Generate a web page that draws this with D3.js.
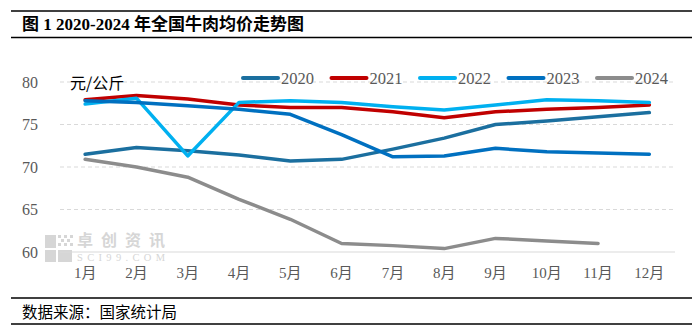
<!DOCTYPE html>
<html lang="zh">
<head>
<meta charset="UTF-8">
<title>2020-2024 年全国牛肉均价走势图</title>
<script src="https://cdnjs.cloudflare.com/ajax/libs/d3/7.8.5/d3.min.js"></script>
<style>
  body { margin: 0; background: #fff; }
  svg { display: block; }
</style>
</head>
<body>
<div id="chart"></div>
<script>
// 月份
const months = ['1月', '2月', '3月', '4月', '5月', '6月', '7月', '8月', '9月', '10月', '11月', '12月'];
// 各年份均价 (元/公斤)
const years = ['2020', '2021', '2022', '2023', '2024'];
const v2020 = [71.5, 72.3, 71.9, 71.4, 70.7, 70.9, 72.1, 73.4, 75.0, 75.4, 75.9, 76.4];
const v2021 = [77.9, 78.4, 78.0, 77.3, 77.0, 77.0, 76.5, 75.8, 76.5, 76.8, 77.0, 77.3];
const v2022 = [77.4, 78.1, 71.3, 77.6, 77.8, 77.6, 77.1, 76.7, 77.3, 77.9, 77.8, 77.6];
const v2023 = [77.8, 77.6, 77.2, 76.8, 76.2, 73.8, 71.2, 71.3, 72.2, 71.8, 71.65, 71.5];
const v2024 = [70.9, 70.0, 68.8, 66.2, 63.85, 61.0, 60.75, 60.4, 61.6, 61.3, 61.0];
const yTicks = [60, 65, 70, 75, 80];

const colors = ['#1b6f9f', '#c00000', '#00b0f0', '#0070c0', '#8c8c8c'];
const seriesValues = [v2020, v2021, v2022, v2023, v2024];

const W = 699, H = 336;
const svg = d3.select('#chart').append('svg').attr('width', W).attr('height', H);

// 标题与边框线
svg.append('line').attr('x1', 11).attr('x2', 692).attr('y1', 11).attr('y2', 11)
   .attr('stroke', '#000').attr('stroke-width', 1.5);
svg.append('line').attr('x1', 11).attr('x2', 692).attr('y1', 37.5).attr('y2', 37.5)
   .attr('stroke', '#000').attr('stroke-width', 1.5);
svg.append('text').attr('x', 22).attr('y', 30)
   .attr('font-family', '"Liberation Serif", "Noto Sans CJK SC", serif')
   .attr('font-weight', 'bold').attr('font-size', 17).attr('fill', '#000')
   .text('图 1 2020-2024 年全国牛肉均价走势图');

// 数据来源
svg.append('line').attr('x1', 11).attr('x2', 692).attr('y1', 298).attr('y2', 298)
   .attr('stroke', '#000').attr('stroke-width', 1.5);
svg.append('line').attr('x1', 11).attr('x2', 692).attr('y1', 324).attr('y2', 324)
   .attr('stroke', '#000').attr('stroke-width', 1.5);
svg.append('text').attr('x', 22).attr('y', 318)
   .attr('font-family', '"Noto Sans CJK SC", sans-serif')
   .attr('font-size', 15.5).attr('fill', '#000')
   .text('数据来源：国家统计局');

// 比例尺
const x = d3.scaleBand().domain(months).range([59.5, 675]);
const y = d3.scaleLinear().domain([60, 80]).range([252, 82]);

// 水印
const wm = svg.append('g').attr('fill', '#d6d6d6');
wm.append('rect').attr('x', 45).attr('y', 235).attr('width', 11).attr('height', 13);
wm.append('rect').attr('x', 45).attr('y', 250).attr('width', 11).attr('height', 12);
wm.append('rect').attr('x', 58).attr('y', 250).attr('width', 14).attr('height', 12);
[[58, 235], [64, 235], [70, 235], [61, 239], [67, 239], [58, 243], [64, 243], [70, 243]].forEach(p => {
  wm.append('rect').attr('x', p[0]).attr('y', p[1]).attr('width', 3).attr('height', 3);
});
wm.append('text').attr('x', 77).attr('y', 246)
  .attr('font-family', '"Noto Sans CJK SC", sans-serif').attr('font-weight', 'bold')
  .attr('font-size', 16).attr('textLength', 88).text('卓创资讯');
wm.append('text').attr('x', 77).attr('y', 261)
  .attr('font-family', '"Liberation Serif", serif')
  .attr('font-size', 10.5).attr('textLength', 88).text('SCI99.COM');

// 网格线
svg.append('g').selectAll('line')
   .data(yTicks)
   .join('line')
   .attr('x1', 60).attr('x2', 675)
   .attr('y1', d => y(d)).attr('y2', d => y(d))
   .attr('stroke', '#d9d9d9').attr('stroke-width', 1)
   .attr('stroke-dasharray', d => d === 60 ? null : '4,3');

// y 轴
const yAxis = svg.append('g').attr('transform', 'translate(40,0)')
   .call(d3.axisLeft(y).tickValues(yTicks).tickSize(0).tickPadding(2));
yAxis.select('.domain').remove();
yAxis.selectAll('text').attr('font-family', '"Liberation Serif", serif')
   .attr('font-size', 16).attr('fill', '#595959');

// x 轴
const xAxis = svg.append('g').attr('transform', 'translate(0,252)')
   .call(d3.axisBottom(x).tickSize(0).tickPadding(15));
xAxis.select('.domain').remove();
xAxis.selectAll('text').attr('font-family', '"Liberation Serif", "Noto Sans CJK SC", serif')
   .attr('font-size', 15).attr('fill', '#595959');

// 单位
svg.append('text').attr('x', 70).attr('y', 89)
   .attr('font-family', '"Noto Sans CJK SC", sans-serif')
   .attr('font-size', 16).attr('fill', '#000').text('元/公斤');

// 折线
const line = d3.line()
   .x((d, i) => x(months[i]) + x.bandwidth() / 2)
   .y(d => y(d));

svg.append('g').selectAll('path')
   .data(seriesValues)
   .join('path')
   .attr('d', d => line(d))
   .attr('fill', 'none')
   .attr('stroke', (d, i) => colors[i])
   .attr('stroke-width', 3.5)
   .attr('stroke-linejoin', 'round')
   .attr('stroke-linecap', 'round');

// 图例
const legend = svg.append('g').selectAll('g')
   .data(years)
   .join('g')
   .attr('transform', (d, i) => `translate(${243 + i * 88.5},78)`);
legend.append('line').attr('x1', 0).attr('x2', 35).attr('y1', 0).attr('y2', 0)
   .attr('stroke', (d, i) => colors[i]).attr('stroke-width', 4).attr('stroke-linecap', 'round');
legend.append('text').attr('x', 38).attr('y', 6)
   .attr('font-family', '"Liberation Serif", serif')
   .attr('font-size', 16.5).attr('fill', '#595959')
   .text(d => d);
</script>
</body>
</html>
